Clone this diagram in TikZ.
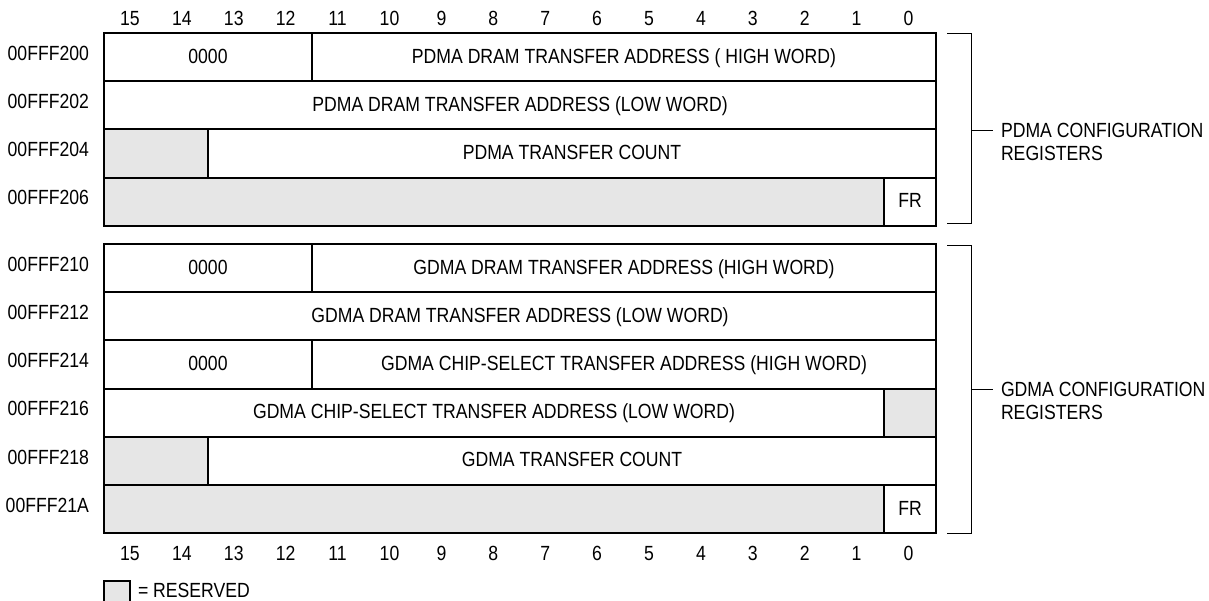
\documentclass[tikz,border=0pt]{standalone}
\usepackage{fontspec}
\setmainfont{Liberation Sans}[FakeStretch=0.86]
\definecolor{resgray}{RGB}{230,230,230}
\begin{document}
\begin{tikzpicture}[x=1pt,y=-1pt,
  every node/.style={font=\fontsize{20.5}{23.5}\selectfont, inner sep=0pt, outer sep=0pt},
  fld/.style={draw, line width=2pt, anchor=north west, minimum height=48.2pt, text height=14.5pt, text depth=2.5pt},
  res/.style={fld, fill=resgray},
  addr/.style={anchor=east, text height=14.5pt, text depth=0pt},
  bitn/.style={anchor=center, text height=14.5pt, text depth=0pt},
  brk/.style={line width=1pt},
  grp/.style={anchor=west, align=left}]
\useasboundingbox (0,0) rectangle (1209,600);
% ---- PDMA registers
\node[fld, minimum width=208pt] (p200a) at (104,33) {0000};
\node[fld, minimum width=624pt] (p200b) at (312,33) {PDMA DRAM TRANSFER ADDRESS ( HIGH WORD)};
\node[fld, minimum width=832pt] (p202) at (104,81.2) {PDMA DRAM TRANSFER ADDRESS (LOW WORD)};
\node[res, minimum width=104pt] (p204a) at (104,129.4) {};
\node[fld, minimum width=728pt] (p204b) at (208,129.4) {PDMA TRANSFER COUNT};
\node[res, minimum width=780pt] (p206a) at (104,177.6) {};
\node[fld, minimum width=52pt] (p206b) at (884,177.6) {FR};
% ---- GDMA registers
\node[fld, minimum width=208pt] (g210a) at (104,244) {0000};
\node[fld, minimum width=624pt] (g210b) at (312,244) {GDMA DRAM TRANSFER ADDRESS (HIGH WORD)};
\node[fld, minimum width=832pt] (g212) at (104,292.2) {GDMA DRAM TRANSFER ADDRESS (LOW WORD)};
\node[fld, minimum width=208pt] (g214a) at (104,340.4) {0000};
\node[fld, minimum width=624pt] (g214b) at (312,340.4) {GDMA CHIP-SELECT TRANSFER ADDRESS (HIGH WORD)};
\node[fld, minimum width=780pt] (g216a) at (104,388.6) {GDMA CHIP-SELECT TRANSFER ADDRESS (LOW WORD)};
\node[res, minimum width=52pt] (g216b) at (884,388.6) {};
\node[res, minimum width=104pt] (g218a) at (104,436.8) {};
\node[fld, minimum width=728pt] (g218b) at (208,436.8) {GDMA TRANSFER COUNT};
\node[res, minimum width=780pt] (g21Aa) at (104,485) {};
\node[fld, minimum width=52pt] (g21Ab) at (884,485) {FR};
% ---- addresses
\node[addr] (l200) at (89,53.6) {00FFF200};
\node[addr] (l202) at (89,101.5) {00FFF202};
\node[addr] (l204) at (89,149.5) {00FFF204};
\node[addr] (l206) at (89,197.5) {00FFF206};
\node[addr] (l210) at (89,264.1) {00FFF210};
\node[addr] (l212) at (89,312.3) {00FFF212};
\node[addr] (l214) at (89,360.5) {00FFF214};
\node[addr] (l216) at (89,408.7) {00FFF216};
\node[addr] (l218) at (89,456.9) {00FFF218};
\node[addr] (l21A) at (89,505.1) {00FFF21A};
% ---- bit numbers
\foreach \b in {0,...,15} {
  \node[bitn] (tb\b) at ({130+(15-\b)*51.9},18) {\b};
  \node[bitn] (bb\b) at ({130+(15-\b)*51.9},553) {\b};
}
% ---- brackets
\coordinate (pu1) at (947,33);
\coordinate (pu2) at (971,33);
\coordinate (pu3) at (971,223);
\coordinate (pu4) at (947,223);
\coordinate (pum) at (971,130);
\coordinate (put) at (993,130);
\draw[brk] (pu1) -- (pu2) -- (pu3) -- (pu4);
\draw[brk] (pum) -- (put);
\node[grp] (pgrp) at (1001,141.7) {PDMA CONFIGURATION\\REGISTERS};
\coordinate (gu1) at (947,245);
\coordinate (gu2) at (971,245);
\coordinate (gu3) at (971,533);
\coordinate (gu4) at (947,533);
\coordinate (gum) at (971,389);
\coordinate (gut) at (993,389);
\draw[brk] (gu1) -- (gu2) -- (gu3) -- (gu4);
\draw[brk] (gum) -- (gut);
\node[grp] (ggrp) at (1001,400.7) {GDMA CONFIGURATION\\REGISTERS};
% ---- legend
\node[draw, line width=2pt, fill=resgray, anchor=north west, minimum width=26pt, minimum height=26pt] (leg) at (104,581) {};
\node[bitn, anchor=west] (legt) at (138,590) {= RESERVED};
\end{tikzpicture}
\end{document}
